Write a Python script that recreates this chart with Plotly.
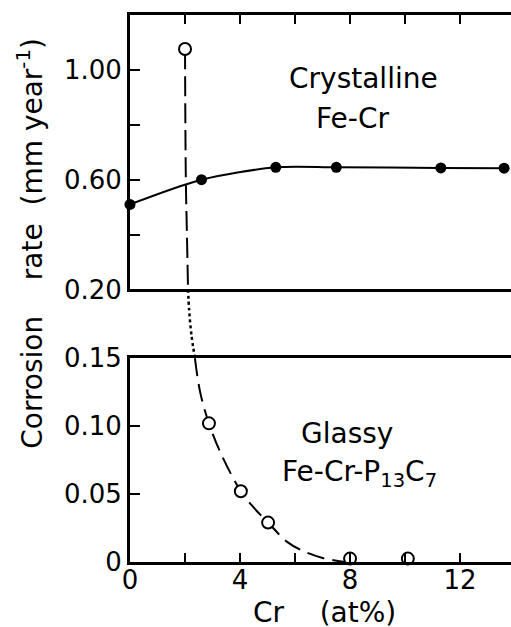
import plotly.graph_objects as go

# Crystalline Fe-Cr: measured corrosion rates (mm/year)
cryst_cr = [0.0, 2.6, 5.3, 7.5, 11.3, 13.6]
cryst_rate = [0.51, 0.60, 0.645, 0.645, 0.643, 0.642]

# Glassy Fe-Cr-P13C7: measured points (upper panel and lower panel)
glassy_hi_cr = [2.0]
glassy_hi_rate = [1.076]
glassy_lo_cr = [2.87, 4.03, 5.02, 8.0, 10.1]
glassy_lo_rate = [0.102, 0.052, 0.029, 0.0025, 0.0025]

# Glassy trend curve, split across the axis break
trend_hi_cr = [2.0, 2.03, 2.07, 2.11]
trend_hi_rate = [1.076, 0.60, 0.40, 0.20]
trend_gap_cr = [2.11, 2.15, 2.23, 2.36]
trend_gap_frac = [1.0, 0.7, 0.35, 0.0]
trend_lo_cr = [2.36, 2.55, 2.87, 3.3, 4.03, 4.5, 5.02, 5.7, 6.3, 7.0, 7.8]
trend_lo_rate = [0.15, 0.125, 0.102, 0.08, 0.052, 0.04, 0.029, 0.015, 0.008, 0.003, 0.0]

x_ticks = [0, 2, 4, 6, 8, 10, 12]
x_tick_text = ["0", "", "4", "", "8", "", "12"]
hi_ticks = [0.2, 0.4, 0.6, 0.8, 1.0]
hi_tick_text = ["0.20", "", "0.60", "", "1.00"]
lo_ticks = [0, 0.05, 0.10, 0.15]
lo_tick_text = ["0", "0.05", "0.10", "0.15"]

FONT = "DejaVu Sans"
X_RANGE = [0, 13.85]
LO_DOM = [0, 205 / 550]
GAP_DOM = [205 / 550, 274 / 550]
HI_DOM = [274 / 550, 1]

fig = go.Figure()

# crystalline curve + dots (upper panel)
fig.add_trace(go.Scatter(x=cryst_cr, y=cryst_rate, mode="lines",
                         line=dict(color="black", width=2, shape="spline", smoothing=0.8),
                         xaxis="x3", yaxis="y3", hoverinfo="skip"))
fig.add_trace(go.Scatter(x=cryst_cr, y=cryst_rate, mode="markers",
                         marker=dict(size=11, color="black"),
                         xaxis="x3", yaxis="y3", cliponaxis=False))

# glassy trend: dashed in panels, dotted across the break
fig.add_trace(go.Scatter(x=trend_hi_cr, y=trend_hi_rate, mode="lines",
                         line=dict(color="black", width=2, dash="20px,7px", shape="spline"),
                         xaxis="x3", yaxis="y3", hoverinfo="skip"))
fig.add_trace(go.Scatter(x=trend_gap_cr, y=trend_gap_frac, mode="lines",
                         line=dict(color="black", width=2.5, dash="dot", shape="spline"),
                         xaxis="x2", yaxis="y2", hoverinfo="skip"))
fig.add_trace(go.Scatter(x=trend_lo_cr, y=trend_lo_rate, mode="lines",
                         line=dict(color="black", width=2, dash="18px,8px", shape="spline"),
                         xaxis="x", yaxis="y", hoverinfo="skip"))

# glassy open circles
open_marker = dict(size=12, color="white", line=dict(color="black", width=2))
fig.add_trace(go.Scatter(x=glassy_hi_cr, y=glassy_hi_rate, mode="markers",
                         marker=open_marker, xaxis="x3", yaxis="y3", cliponaxis=False))
fig.add_trace(go.Scatter(x=glassy_lo_cr, y=glassy_lo_rate, mode="markers",
                         marker=open_marker, xaxis="x", yaxis="y", cliponaxis=False))

tick_font = dict(family=FONT, size=26, color="black")
common_x = dict(range=X_RANGE, showgrid=False, zeroline=False, showline=True,
                linecolor="black", linewidth=3, ticks="inside", ticklen=9,
                tickwidth=2, tickcolor="black", tickvals=x_ticks, mirror=True)
common_y = dict(showgrid=False, zeroline=False, showline=True, linecolor="black",
                linewidth=3, ticks="inside", ticklen=10, tickwidth=2,
                tickcolor="black", tickfont=tick_font)
right_y = dict(showgrid=False, zeroline=False, showline=False, side="right",
               ticks="inside", ticklen=9, tickwidth=2, tickcolor="black",
               showticklabels=False)

fig.update_layout(
    width=511, height=627,
    margin=dict(l=130, r=0, t=12, b=65),
    paper_bgcolor="white", plot_bgcolor="white",
    showlegend=False,
    font=dict(family=FONT, size=26, color="black"),
    xaxis=dict(**common_x, anchor="y", ticktext=x_tick_text, tickfont=tick_font,
               ticklabelstandoff=-7),
    yaxis=dict(**common_y, domain=LO_DOM, range=[0, 0.15], anchor="x",
               tickvals=lo_ticks, ticktext=lo_tick_text),
    xaxis2=dict(range=X_RANGE, anchor="y2", visible=False),
    yaxis2=dict(domain=GAP_DOM, range=[0, 1], anchor="x2", visible=False),
    xaxis3=dict(**common_x, anchor="y3", side="top", showticklabels=False),
    yaxis3=dict(**common_y, domain=HI_DOM, range=[0.2, 1.2], anchor="x3",
                tickvals=hi_ticks, ticktext=hi_tick_text),
    yaxis4=dict(**right_y, overlaying="y", anchor="x", range=[0, 0.15],
                tickvals=[0.05, 0.10]),
    yaxis5=dict(**right_y, overlaying="y3", anchor="x3", range=[0.2, 1.2],
                tickvals=[0.4, 0.6, 0.8, 1.0]),
)

label_font = dict(family=FONT, size=28, color="black")
fig.add_annotation(x=8.47, y=0.968, xref="x3", yref="y3", text="Crystalline",
                   showarrow=False, font=label_font)
fig.add_annotation(x=8.1, y=0.823, xref="x3", yref="y3", text="Fe-Cr",
                   showarrow=False, font=label_font)
fig.add_annotation(x=7.9, y=0.0949, xref="x", yref="y", text="Glassy",
                   showarrow=False, font=label_font)
fig.add_annotation(x=8.36, y=0.0654, xref="x", yref="y",
                   text="Fe-Cr-P<sub>13</sub>C<sub>7</sub>",
                   showarrow=False, font=label_font)

# axis titles
fig.add_annotation(x=(31 - 130) / 381, y=(562 - 242) / 550, xref="paper", yref="paper",
                   text="Corrosion\u00a0\u00a0\u00a0 rate\u00a0 (mm year<sup>-1</sup>)",
                   textangle=-90, showarrow=False, font=label_font,
                   xanchor="center", yanchor="middle")
fig.add_annotation(x=(324 - 130) / 381, y=(562 - 613) / 550, xref="paper", yref="paper",
                   text="Cr\u00a0\u00a0\u00a0 (at%)", showarrow=False, font=label_font,
                   xanchor="center", yanchor="middle")

fig.write_html("out.html")
